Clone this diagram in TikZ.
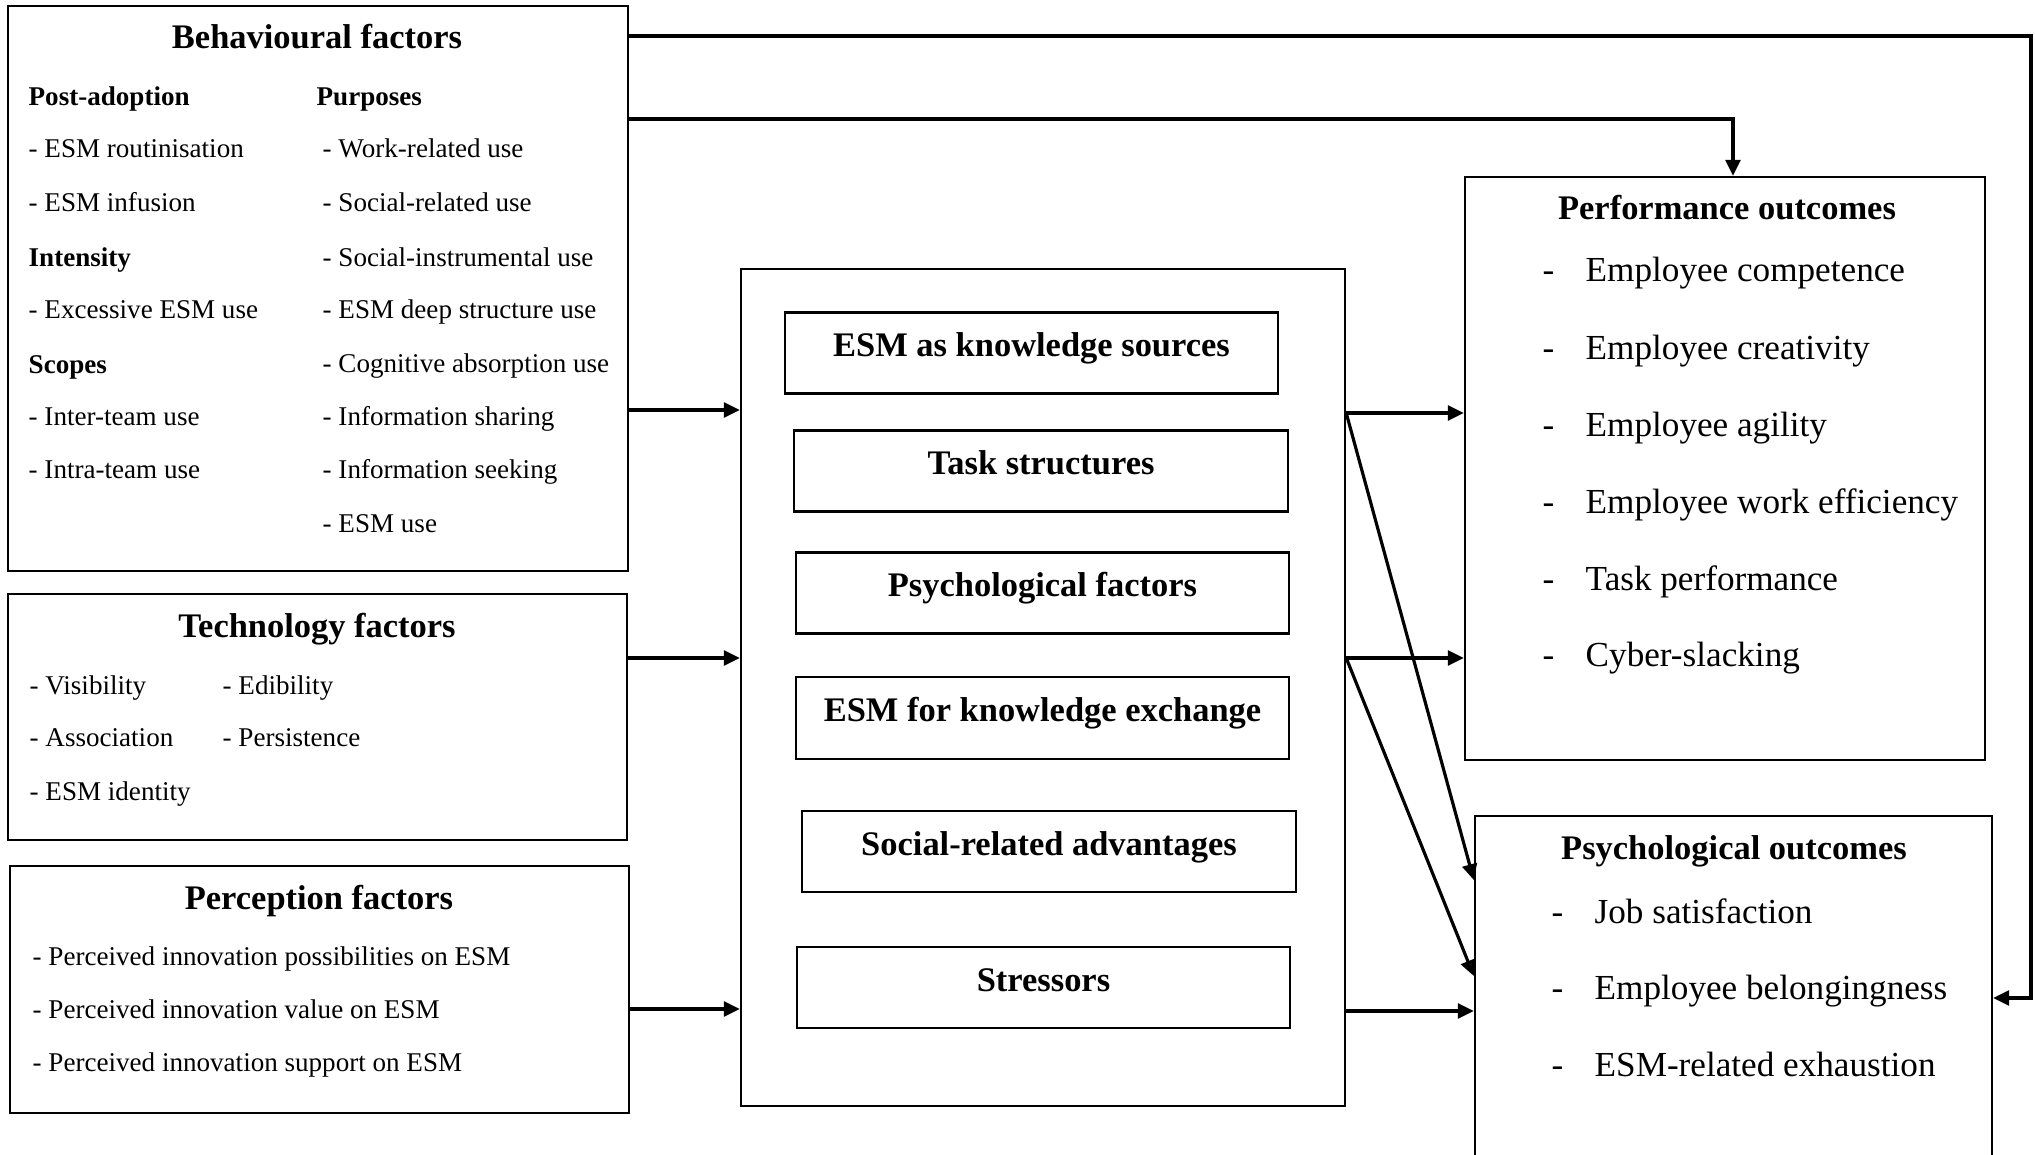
\documentclass[tikz,border=0pt]{standalone}
\usepackage{fontspec}
\setmainfont{Liberation Serif}
\usetikzlibrary{arrows.meta}

\tikzset{
  box/.style={draw, line width=0.6pt, inner sep=0pt},
  inbox/.style={box, minimum width=4.93cm, minimum height=0.81cm, font=\fontsize{9.8}{11}\selectfont\bfseries, text height=6.6pt, text depth=4.5pt},
  ttl/.style={inner sep=0pt, font=\fontsize{9.8}{11}\selectfont\bfseries, text height=6.6pt, text depth=0pt},
  subhd/.style={anchor=west, inner sep=0pt, font=\fontsize{7.7}{9}\selectfont\bfseries, text height=5.1pt, text depth=0pt},
  itm/.style={anchor=west, inner sep=0pt, font=\fontsize{7.7}{9}\selectfont, text height=5.1pt, text depth=0pt},
  outitem/.style={anchor=west, inner sep=0pt, font=\fontsize{10}{12}\selectfont, text height=6.6pt, text depth=0pt},
  conn/.style={line width=0.9pt, -{Triangle[length=4.5pt,width=4.2pt]}},
}

\begin{document}
\begin{tikzpicture}[x=0.01cm, y=-0.01cm]
    \useasboundingbox (0,0) rectangle (2035,1155);

    % Behavioural factors
    \node[box, minimum width=6.2cm, minimum height=5.65cm] (beh) at (318,288.5) {};
    \node[ttl] (behT) at (317,37) {Behavioural factors};
    \node[subhd] (bhPost) at (28,97) {Post-adoption};
    \node[itm] (bhL1) at (28,149) {- ESM routinisation};
    \node[itm] (bhL2) at (28,203) {- ESM infusion};
    \node[subhd] (bhInt) at (28,258) {Intensity};
    \node[itm] (bhL3) at (28,310) {- Excessive ESM use};
    \node[subhd] (bhScp) at (28,365) {Scopes};
    \node[itm] (bhL4) at (28,417) {- Inter-team use};
    \node[itm] (bhL5) at (28,470) {- Intra-team use};
    \node[subhd] (bhPur) at (316,97) {Purposes};
    \node[itm] (bhR1) at (322,149) {- Work-related use};
    \node[itm] (bhR2) at (322,203) {- Social-related use};
    \node[itm] (bhR3) at (322,258) {- Social-instrumental use};
    \node[itm] (bhR4) at (322,310) {- ESM deep structure use};
    \node[itm] (bhR5) at (322,364) {- Cognitive absorption use};
    \node[itm] (bhR6) at (322,417) {- Information sharing};
    \node[itm] (bhR7) at (322,470) {- Information seeking};
    \node[itm] (bhR8) at (322,524) {- ESM use};

    % Technology factors
    \node[box, minimum width=6.19cm, minimum height=2.46cm] (tec) at (317.5,717) {};
    \node[ttl] (tecT) at (317,626) {Technology factors};
    \node[itm] (tcL1) at (29,686) {- Visibility};
    \node[itm] (tcL2) at (29,738) {- Association};
    \node[itm] (tcL3) at (29,792) {- ESM identity};
    \node[itm] (tcR1) at (222,686) {- Edibility};
    \node[itm] (tcR2) at (222,738) {- Persistence};

    % Perception factors
    \node[box, minimum width=6.19cm, minimum height=2.47cm] (per) at (319.5,989.5) {};
    \node[ttl] (perT) at (319,898) {Perception factors};
    \node[itm] (pc1) at (32,957) {- Perceived innovation possibilities on ESM};
    \node[itm] (pc2) at (32,1010) {- Perceived innovation value on ESM};
    \node[itm] (pc3) at (32,1063) {- Perceived innovation support on ESM};

    % Mechanisms in the middle
    \node[box, minimum width=6.04cm, minimum height=8.37cm] (cen) at (1043,687.5) {};
    \node[inbox] (mKs) at (1031.5,353) {ESM as knowledge sources};
    \node[inbox] (mTs) at (1041,471) {Task structures};
    \node[inbox] (mPf) at (1042.5,593) {Psychological factors};
    \node[inbox, minimum height=0.82cm] (mKe) at (1042.5,718) {ESM for knowledge exchange};
    \node[inbox] (mSa) at (1049,851.5) {Social-related advantages};
    \node[inbox] (mSt) at (1043.5,987.5) {Stressors};

    % Performance outcomes
    \node[box, minimum width=5.2cm, minimum height=5.83cm] (perf) at (1725,468.5) {};
    \node[ttl] (perfT) at (1727,208) {Performance outcomes};
    \node[outitem] (pf1) at (1542,270) {\makebox[0.43cm][l]{-}Employee competence};
    \node[outitem] (pf2) at (1542,348) {\makebox[0.43cm][l]{-}Employee creativity};
    \node[outitem] (pf3) at (1542,425) {\makebox[0.43cm][l]{-}Employee agility};
    \node[outitem] (pf4) at (1542,502) {\makebox[0.43cm][l]{-}Employee work efficiency};
    \node[outitem] (pf5) at (1542,579) {\makebox[0.43cm][l]{-}Task performance};
    \node[outitem] (pf6) at (1542,655) {\makebox[0.43cm][l]{-}Cyber-slacking};

    % Psychological outcomes (runs off the bottom)
    \node[box, minimum width=5.17cm, minimum height=3.46cm] (psy) at (1733.5,989) {};
    \node[ttl] (psyT) at (1734,848) {Psychological outcomes};
    \node[outitem] (ps1) at (1551,912) {\makebox[0.43cm][l]{-}Job satisfaction};
    \node[outitem] (ps2) at (1551,988) {\makebox[0.43cm][l]{-}Employee belongingness};
    \node[outitem] (ps3) at (1551,1065) {\makebox[0.43cm][l]{-}ESM-related exhaustion};

    % Inputs into the middle box
    \draw[conn] (beh.east |- 0,410) -- (cen.west |- 0,410);
    \draw[conn] (tec.east |- 0,658) -- (cen.west |- 0,658);
    \draw[conn] (per.east |- 0,1009) -- (cen.west |- 0,1009);

    % Outputs to the outcomes
    \draw[conn] (cen.east |- 0,413) -- (perf.west |- 0,413);
    \draw[conn] (cen.east |- 0,658) -- (perf.west |- 0,658);
    \draw[conn] (cen.east |- 0,413) -- (psy.west |- 0,880);
    \draw[conn] (cen.east |- 0,658) -- (psy.west |- 0,976);
    \draw[conn] (cen.east |- 0,1011) -- (psy.west |- 0,1011);

    % Direct paths from behavioural factors
    \draw[conn] (beh.east |- 0,36) -- (2031,36) |- (psy.east |- 0,998);
    \draw[conn] (beh.east |- 0,119) -| (perf.north -| 1733,0);
\end{tikzpicture}
\end{document}
